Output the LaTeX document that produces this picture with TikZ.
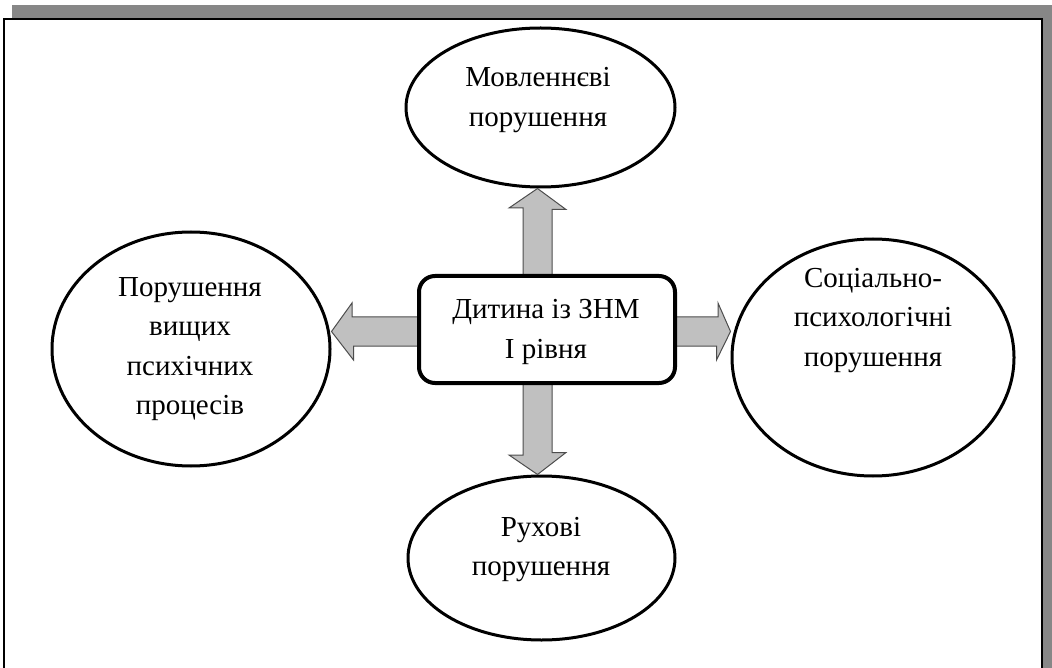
\documentclass[tikz,border=0pt]{standalone}
\usepackage{fontspec}
\setmainfont{Liberation Serif}
\usetikzlibrary{shapes.geometric}
\definecolor{shadowgray}{HTML}{878787}
\definecolor{arrowfill}{HTML}{C0C0C0}
\definecolor{arrowline}{HTML}{4D4D4D}
\tikzset{
  oval/.style={ellipse, draw=black, line width=3pt, fill=white, inner sep=0pt},
  txt/.style={align=center, inner sep=0pt, font=\fontsize{29}{39.5}\selectfont},
  centerbox/.style={rectangle, rounded corners=16pt, draw=black, line width=4pt, fill=white},
  fat/.style={fill=arrowfill, draw=arrowline, line width=1pt, line join=miter},
}
\begin{document}
\begin{tikzpicture}[x=1pt, y=-1pt]
\useasboundingbox (0,0) rectangle (1052,668);
% shadow and frame
\fill[shadowgray] (12,5) rectangle (1052,690);
\draw[line width=2pt, fill=white] (4,19) rectangle (1042,690);
% ellipses
\node[oval, minimum width=269pt, minimum height=159pt] (speech) at (540.5,107.5) {};
\node[oval, minimum width=267pt, minimum height=164pt] (motor) at (541.5,558) {};
\node[oval, minimum width=278pt, minimum height=234pt] (mental) at (191,349) {};
\node[oval, minimum width=282pt, minimum height=237pt] (social) at (873,357.5) {};
% arrows (drawn beneath the centre box)
\coordinate (cup) at (537.5,276);
\coordinate (cdown) at (537.5,383);
\coordinate (cleft) at (419,331.5);
\coordinate (cright) at (675,331.5);
\draw[fat] (cup) ++(-14.5,2) -- ++(0,-70) -- ++(-14,0) -- (speech.south -| cup) -- ++(28.5,21) -- ++(-14,0) -- ++(0,70) -- cycle;
\draw[fat] (cdown) ++(-14.5,-2) -- ++(0,74) -- ++(-14,0) -- (motor.north -| cdown) -- ++(28.5,-22) -- ++(-14,0) -- ++(0,-74) -- cycle;
\draw[fat] (cleft) ++(2,-14.5) -- ++(-69,0) -- ++(0,-14) -- (mental.east |- cleft) -- ++(22,28.5) -- ++(0,-14) -- ++(69,0) -- cycle;
\draw[fat] (cright) ++(-2,-14.5) -- ++(45,0) -- ++(0,-14) -- (social.west |- cright) -- ++(-14,28.5) -- ++(0,-14) -- ++(-45,0) -- cycle;
\node[centerbox, minimum width=256pt, minimum height=107pt] (child) at (547,329.5) {};
% texts
\node[txt] (speechtext) at (538,100) {Мовленнєві\\порушення};
\node[txt] (motortext) at (541,549.5) {Рухові\\порушення};
\node[txt] (mentaltext) at (190,349) {Порушення\\вищих\\психічних\\процесів};
\node[txt] (socialtext) at (873,320.5) {Соціально-\\психологічні\\порушення};
\node[txt] (childtext) at (546,332) {Дитина із ЗНМ\\I рівня};
\end{tikzpicture}
\end{document}
